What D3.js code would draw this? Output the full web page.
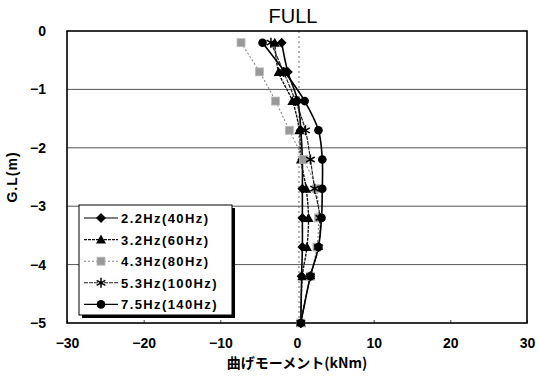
<!DOCTYPE html>
<html><head><meta charset="utf-8">
<script src="https://cdn.jsdelivr.net/npm/d3@7"></script>
<style>body{margin:0;background:#fff;} svg{display:block;}</style>
</head><body>
<svg id="c" width="539" height="384"></svg>
<script>
const depths = [-0.2, -0.7, -1.2, -1.7, -2.2, -2.7, -3.2, -3.7, -4.2, -5.0];
const s22 = [-2.0, -1.2, 0.1, 0.5, 0.7, 0.7, 0.7, 0.7, 0.6, 0.5];
const s32 = [-2.9, -2.4, -0.6, 0.3, 0.5, 1.2, 1.5, 1.3, 0.7, 0.5];
const s43 = [-7.3, -4.9, -2.8, -1.0, 0.85, 2.5, 2.8, 2.6, 1.75, 0.5];
const s53 = [-3.4, -1.75, -0.2, 1.1, 1.75, 2.3, 3.0, 2.8, 1.75, 0.5];
const s75 = [-4.5, -1.6, 1.0, 2.8, 3.3, 3.3, 3.2, 2.8, 1.75, 0.5];
const seriesNames = ["2.2Hz(40Hz)", "3.2Hz(60Hz)", "4.3Hz(80Hz)", "5.3Hz(100Hz)", "7.5Hz(140Hz)"];
const xTicks = [-30, -20, -10, 0, 10, 20, 30];
const yTicks = [0, -1, -2, -3, -4, -5];
const title = "FULL";
const xTitle = "曲げモーメント(kNm)";
const yTitle = "G.L(m)";

const series = [
  {name: seriesNames[0], vals: s22, marker: "diamond", color: "#000", dash: null, width: 1.6},
  {name: seriesNames[1], vals: s32, marker: "triangle", color: "#111", dash: "3,1", width: 1.4},
  {name: seriesNames[2], vals: s43, marker: "square", color: "#888", dash: "2,2", width: 1.1},
  {name: seriesNames[3], vals: s53, marker: "star", color: "#222", dash: "4,1", width: 1.2},
  {name: seriesNames[4], vals: s75, marker: "circle", color: "#000", dash: null, width: 1.6}
];

const L = 67, R = 527, T = 31, B = 323;
const x = d3.scaleLinear().domain([-30, 30]).range([L, R]);
const y = d3.scaleLinear().domain([0, -5]).range([T, B]);
const svg = d3.select("#c");
const F = "'Liberation Sans', Arial, sans-serif";

// gridlines
svg.append("g").selectAll("line").data(yTicks.filter(d => d !== 0 && d !== -5)).join("line")
  .attr("x1", L).attr("x2", R).attr("y1", d => y(d)).attr("y2", d => y(d))
  .attr("stroke", "#555").attr("stroke-width", 1);
// zero dashed line
svg.append("line").attr("x1", x(0) + 2).attr("x2", x(0) + 2).attr("y1", T).attr("y2", B)
  .attr("stroke", "#666").attr("stroke-dasharray", "2,3").attr("stroke-width", 1);

// axes (labels)
const xAxis = d3.axisBottom(x).tickValues(xTicks).tickSize(3).tickSizeOuter(0).tickFormat(d => d < 0 ? "\u2212" + Math.abs(d) : d);
const gx = svg.append("g").attr("transform", `translate(0,${B})`).call(xAxis);
gx.select(".domain").remove();
gx.selectAll(".tick line").attr("y2", -3).attr("stroke", "#444");
gx.selectAll("text").attr("dy", null).attr("y", 25).attr("font-family", F).attr("font-weight", "bold").attr("font-size", 14).attr("fill", "#000");

const yAxis = d3.axisLeft(y).tickValues(yTicks).tickSize(0).tickFormat(d => d < 0 ? "\u2212" + Math.abs(d) : d);
const gy = svg.append("g").attr("transform", `translate(${L},0)`).call(yAxis);
gy.select(".domain").remove();
gy.selectAll("text").attr("x", -21).attr("font-family", F).attr("font-weight", "bold").attr("font-size", 14).attr("fill", "#000");

// border
svg.append("rect").attr("x", L).attr("y", T).attr("width", R - L).attr("height", B - T)
  .attr("fill", "none").attr("stroke", "#000").attr("stroke-width", 1.6);

// titles
svg.append("text").attr("x", x(0) - 4).attr("y", 23).attr("text-anchor", "middle")
  .attr("font-family", F).attr("font-size", 20).text(title);
svg.append("text").attr("x", x(0)).attr("y", 368).attr("text-anchor", "middle")
  .attr("font-family", "'Noto Sans CJK JP', sans-serif").attr("font-weight", "bold").attr("font-size", 14).text(xTitle);
svg.append("text").attr("transform", `translate(17,${y(-2.5)}) rotate(-90)`).attr("text-anchor", "middle")
  .attr("font-family", F).attr("font-weight", "bold").attr("font-size", 14).attr("letter-spacing", 1).text(yTitle);

function drawMarker(g, type, cx, cy) {
  if (type === "diamond") {
    g.append("path").attr("d", `M${cx},${cy-5}L${cx+5},${cy}L${cx},${cy+5}L${cx-5},${cy}Z`).attr("fill", "#000");
  } else if (type === "triangle") {
    g.append("path").attr("d", `M${cx},${cy-5}L${cx+5},${cy+4}L${cx-5},${cy+4}Z`).attr("fill", "#000");
  } else if (type === "square") {
    g.append("rect").attr("x", cx-4).attr("y", cy-4).attr("width", 8).attr("height", 8).attr("fill", "#999").attr("stroke", "#bbb").attr("stroke-width", 0.8);
  } else if (type === "star") {
    const p = [];
    for (let a = 0; a < 3; a++) {
      const ang = a * Math.PI / 3 + Math.PI / 2;
      p.push(`M${cx+5*Math.cos(ang)},${cy+5*Math.sin(ang)}L${cx-5*Math.cos(ang)},${cy-5*Math.sin(ang)}`);
    }
    g.append("path").attr("d", p.join("")).attr("stroke", "#000").attr("stroke-width", 1.5).attr("fill", "none");
  } else if (type === "circle") {
    g.append("circle").attr("cx", cx).attr("cy", cy).attr("r", 4.3).attr("fill", "#000");
  }
}

const line = d3.line().x(d => x(d[0])).y(d => y(d[1])).curve(d3.curveCatmullRom.alpha(0.5));
series.forEach(s => {
  const pts = s.vals.map((v, i) => [v, depths[i]]);
  svg.append("path").datum(pts).attr("d", line).attr("fill", "none")
    .attr("stroke", s.color).attr("stroke-width", s.width).attr("stroke-dasharray", s.dash);
});
series.forEach(s => {
  const g = svg.append("g");
  s.vals.forEach((v, i) => drawMarker(g, s.marker, x(v), y(depths[i])));
});

// legend
const lx = 79, ly = 205, lw = 153, lh = 110;
svg.append("rect").attr("x", lx + 3).attr("y", ly + 3).attr("width", lw).attr("height", lh).attr("fill", "#000");
svg.append("rect").attr("x", lx).attr("y", ly).attr("width", lw).attr("height", lh).attr("fill", "#fff")
  .attr("stroke", "#000").attr("stroke-width", 1);
series.forEach((s, i) => {
  const yy = ly + 13 + i * 21.6;
  const g = svg.append("g");
  g.append("line").attr("x1", lx + 5).attr("x2", lx + 39).attr("y1", yy).attr("y2", yy)
    .attr("stroke", s.color).attr("stroke-width", 1.1).attr("stroke-dasharray", s.dash);
  drawMarker(g, s.marker, lx + 22, yy);
  g.append("text").attr("x", lx + 42).attr("y", yy + 5).attr("font-family", F).attr("font-weight", "bold")
    .attr("font-size", 13).attr("letter-spacing", 1.4).text(s.name);
});
</script>
</body></html>
